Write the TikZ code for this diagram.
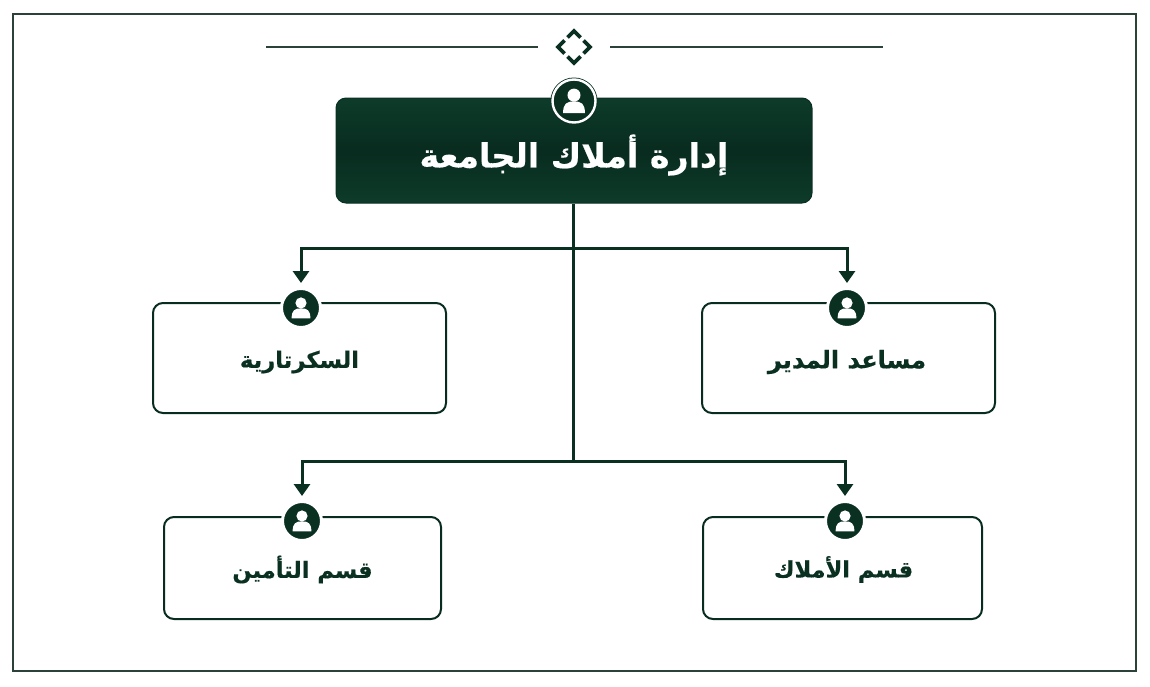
\documentclass[tikz,border=0pt]{standalone}
\usepackage{fontspec}
\setmainfont{DejaVu Sans}
\newfontfamily\arabicfont[Script=Arabic,BoldFeatures={FakeBold=0.5}]{DejaVu Sans}
\TeXXeTstate=1
\usetikzlibrary{arrows.meta,positioning}
\definecolor{dk}{HTML}{0A3022}
\definecolor{dkmid}{HTML}{082C1F}
\definecolor{dkedge}{HTML}{0D3B2A}
\definecolor{frm}{HTML}{2A4238}
\newcommand{\ar}[1]{\arabicfont\bfseries\beginR #1\endR}
\newcommand{\person}[2]{%
  \fill[white] ([yshift=#2*0.28pt]#1.center) circle[radius=#2*0.31pt];
  \fill[white] ([shift={(-#2*0.52pt,-#2*0.58pt)}]#1.center)
    .. controls ([shift={(-#2*0.52pt,-#2*0.12pt)}]#1.center) and ([shift={(-#2*0.35pt,-#2*0.02pt)}]#1.center) .. ([shift={(0pt,-#2*0.02pt)}]#1.center)
    .. controls ([shift={(#2*0.35pt,-#2*0.02pt)}]#1.center) and ([shift={(#2*0.52pt,-#2*0.12pt)}]#1.center) .. ([shift={(#2*0.52pt,-#2*0.58pt)}]#1.center) -- cycle;
}
\tikzset{
  x=1pt,y=-1pt,
  framebox/.style={draw=frm,line width=2pt},
  rule/.style={draw=frm,line width=1.8pt},
  chev/.style={draw=dk,line width=3.6pt,line cap=butt,line join=miter},
  topbox/.style={draw=dk,line width=1pt,rounded corners=10pt,top color=dkedge,bottom color=dkedge,middle color=dkmid},
  subbox/.style={draw=dkmid,line width=2pt,rounded corners=10pt,fill=white},
  iconbig/.style={circle,draw=dk,fill=dk,line width=1pt,minimum size=46pt,inner sep=0pt},
  iconsmall/.style={circle,draw=white,fill=dk,line width=3pt,minimum size=39pt,inner sep=0pt},
  link/.style={draw=dk,line width=3pt},
  arrowlink/.style={link,-{Triangle[length=12pt,width=16pt]},shorten >=4pt},
  titletext/.style={text=white,font=\fontsize{33.2}{40}\selectfont,inner sep=0pt},
  subtext/.style={text=dk,inner sep=0pt},
}
\begin{document}
\begin{tikzpicture}
\useasboundingbox (0,0) rectangle (1150,686);
\fill[white] (0,0) rectangle (1150,686);
\draw[framebox] (12.5,13.5) rectangle (1136,671);

\coordinate (ruleAa) at (266,47); \coordinate (ruleAb) at (538,47);
\coordinate (ruleBa) at (610,47); \coordinate (ruleBb) at (883,47);
\draw[rule] (ruleAa) -- (ruleAb);
\draw[rule] (ruleBa) -- (ruleBb);
\draw[chev] (567.5,37.5) -- (574,31) -- (580.5,37.5);
\draw[chev] (583.5,40.5) -- (590,47) -- (583.5,53.5);
\draw[chev] (567.5,56.5) -- (574,63) -- (580.5,56.5);
\draw[chev] (564.5,40.5) -- (558,47) -- (564.5,53.5);

\node[topbox,minimum width=476pt,minimum height=105pt,inner sep=0pt] (top) at (574,150.5) {};
\node[subbox,minimum width=293pt,minimum height=110pt,inner sep=0pt] (sec) at (299.5,358) {};
\node[subbox,minimum width=293pt,minimum height=110pt,inner sep=0pt] (asst) at (848.5,358) {};
\node[subbox,minimum width=277pt,minimum height=102pt,inner sep=0pt] (ins) at (302.5,568) {};
\node[subbox,minimum width=279pt,minimum height=102pt,inner sep=0pt] (prop) at (842.5,568) {};

\coordinate (busA) at (573,248);
\coordinate (busB) at (573,461);
\node[iconsmall] (icsec) at (301,308) {};
\node[iconsmall] (icasst) at (847,308) {};
\node[iconsmall] (icins) at (302,521) {};
\node[iconsmall] (icprop) at (845,521) {};

\draw[link] (top.south -| busA) -- (busB);
\draw[arrowlink] (busA) -| (icsec.north);
\draw[arrowlink] (busA) -| (icasst.north);
\draw[arrowlink] (busB) -| (icins.north);
\draw[arrowlink] (busB) -| (icprop.north);

\node[iconbig] (ictop) at (574,101) {};
\draw[white,line width=2.4pt] (ictop.center) circle[radius=21.5];
\person{ictop}{21}
\person{icsec}{18}
\person{icasst}{18}
\person{icins}{18}
\person{icprop}{18}

\node[titletext] (ttop) at (574,155) {\ar{إدارة أملاك الجامعة}};
\node[subtext,font=\fontsize{22.7}{28}\selectfont] (tsec) at (299.5,362) {\ar{السكرتارية}};
\node[subtext,font=\fontsize{24}{30}\selectfont] (tasst) at (847,362) {\ar{مساعد المدير}};
\node[subtext,font=\fontsize{22.5}{28}\selectfont] (tins) at (302.5,569.5) {\ar{قسم التأمين}};
\node[subtext,font=\fontsize{22.5}{28}\selectfont] (tprop) at (843.5,569.5) {\ar{قسم الأملاك}};
\end{tikzpicture}
\end{document}
